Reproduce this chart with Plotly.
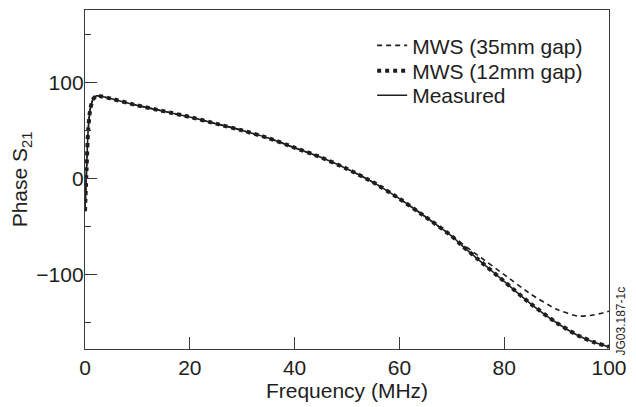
import plotly.graph_objects as go

# Phase of S21 versus frequency: two MWS simulations and the measurement
freq_common = [0, 0.3, 0.6, 1.0, 1.5, 2.2, 3, 5, 10, 15, 20, 25, 30, 35, 40,
               45, 50, 55, 60, 65, 70]
phase_common = [-34, 10, 50, 72, 82, 86, 85.5, 83, 76, 70, 64, 57, 50, 42, 32,
                22, 10, -4, -21, -40, -60]

freq_tail = [72, 75, 80, 85, 90, 94, 97, 100]
phase_35mm_tail = [-68, -80, -100, -120, -136, -143, -142, -138]
phase_12mm_tail = [-70, -84, -107, -130, -150, -163, -170, -175]
phase_meas_tail = [-70, -84, -107, -130, -150, -163, -170, -175]

freq = freq_common + freq_tail
phase_35mm = phase_common + phase_35mm_tail
phase_12mm = phase_common + phase_12mm_tail
phase_meas = phase_common + phase_meas_tail

x_ticks = [0, 20, 40, 60, 80, 100]
y_ticks = [-100, 0, 100]
y_minor = [-150, -50, 50, 150]

FONT = "Liberation Sans, Arial, Helvetica, sans-serif"
INK = "#1e1e1e"
AXIS = "#3a3a3a"
FS = 21

fig = go.Figure()

fig.add_trace(go.Scatter(
    x=freq, y=phase_meas, mode="lines", name="Measured", legend="legend3",
    line=dict(color=INK, width=1.6, shape="spline", smoothing=0.6),
))
fig.add_trace(go.Scatter(
    x=freq, y=phase_35mm, mode="lines", name="MWS (35mm gap)", legend="legend",
    line=dict(color=INK, width=1.6, dash="5px,4px", shape="spline", smoothing=0.6),
))
fig.add_trace(go.Scatter(
    x=freq, y=phase_12mm, mode="lines", name="MWS (12mm gap)", legend="legend2",
    line=dict(color=INK, width=4, dash="dot", shape="spline", smoothing=0.6),
))


def legend_box(ypos):
    return dict(
        x=0.548, y=ypos, xanchor="left", yanchor="top",
        bgcolor="rgba(0,0,0,0)", borderwidth=0,
        font=dict(family=FONT, size=FS, color=INK),
        itemwidth=30,
    )


fig.update_layout(
    width=636, height=407,
    margin=dict(l=85, r=27, t=9, b=51),
    paper_bgcolor="white", plot_bgcolor="white",
    font=dict(family=FONT, size=FS, color=INK),
    showlegend=True,
    legend=legend_box(0.955),
    legend2=legend_box(0.880),
    legend3=legend_box(0.808),
    annotations=[dict(
        text="JG03.187-1c", xref="paper", yref="paper",
        x=1.0, y=0.0, xanchor="left", yanchor="bottom", xshift=2, yshift=-9,
        textangle=-90, showarrow=False,
        font=dict(family=FONT, size=12, color=INK),
    )],
)

fig.update_xaxes(
    range=[0, 100], tickvals=x_ticks, ticks="inside", ticklen=12, tickwidth=1,
    tickcolor=AXIS, showline=True, linecolor=AXIS, linewidth=1.3, mirror=True,
    showgrid=False, zeroline=False,
    title=dict(text="Frequency (MHz)", standoff=4,
               font=dict(family=FONT, size=FS, color=INK)),
    tickfont=dict(family=FONT, size=FS, color=INK),
)
fig.update_yaxes(
    range=[-177.3, 175.2], tickvals=y_ticks,
    ticktext=["\u2212100", "0", "100"],
    ticks="inside", ticklen=12, tickwidth=1, tickcolor=AXIS,
    minor=dict(tickvals=y_minor, ticks="inside", ticklen=6, tickwidth=1, tickcolor=AXIS),
    showline=True, linecolor=AXIS, linewidth=1.3, mirror=True,
    showgrid=False, zeroline=False, ticklabelstandoff=-4,
    title=dict(text="Phase S<sub>21</sub>", standoff=2,
               font=dict(family=FONT, size=FS, color=INK)),
    tickfont=dict(family=FONT, size=FS, color=INK),
)

fig.write_html("out.html")
